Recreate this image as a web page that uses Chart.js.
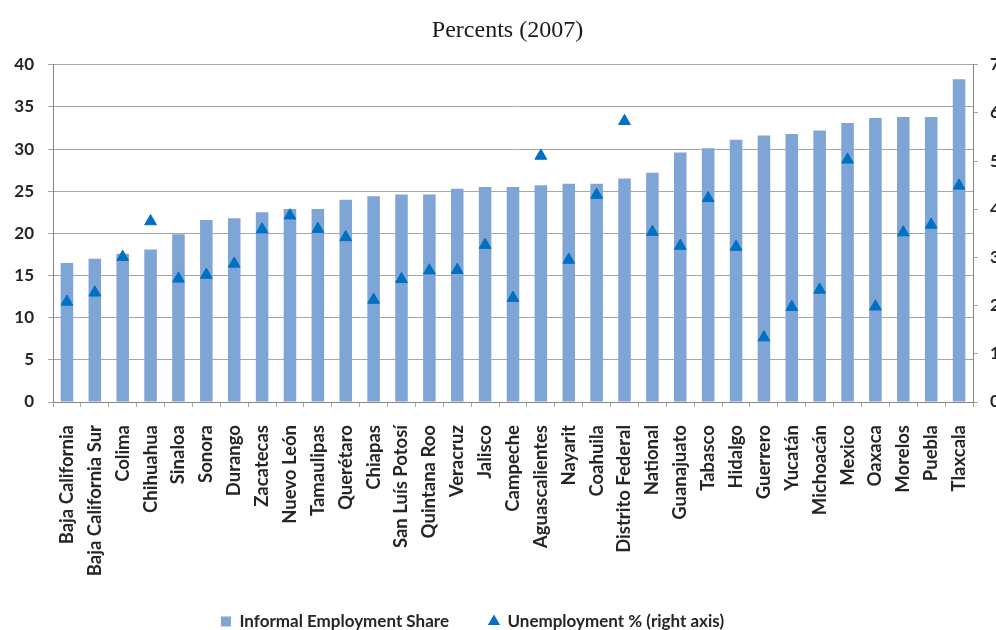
<!DOCTYPE html>
<html>
<head>
<meta charset="utf-8">
<script src="https://cdn.jsdelivr.net/npm/chart.js@4"></script>
<style>
  html, body { margin: 0; padding: 0; background: #fff; overflow: hidden; }
  /* the box is a bit wider than the window so the right-hand tick labels run off the edge */
  #wrap { position: relative; width: 1010px; height: 630px; }
</style>
</head>
<body>
<div id="wrap"><canvas id="chart"></canvas></div>
<script>
// states ordered by informal employment share
const states = [
  'Baja California', 'Baja California Sur', 'Colima', 'Chihuahua', 'Sinaloa', 'Sonora',
  'Durango', 'Zacatecas', 'Nuevo León', 'Tamaulipas', 'Querétaro', 'Chiapas',
  'San Luís Potosí', 'Quintana Roo', 'Veracruz', 'Jalisco', 'Campeche', 'Aguascalientes',
  'Nayarit', 'Coahuila', 'Distrito Federal', 'National', 'Guanajuato', 'Tabasco',
  'Hidalgo', 'Guerrero', 'Yucatán', 'Michoacán', 'Mexico', 'Oaxaca', 'Morelos',
  'Puebla', 'Tlaxcala'
];

// informal employment share, left axis
const informalShare = [
  16.5, 17.0, 17.6, 18.1, 19.9, 21.6, 21.8, 22.5, 22.9, 22.9, 24.0, 24.4,
  24.6, 24.6, 25.3, 25.5, 25.5, 25.7, 25.9, 25.9, 26.5, 27.2, 29.6, 30.1,
  31.1, 31.6, 31.8, 32.2, 33.1, 33.7, 33.8, 33.8, 38.3
];

// unemployment rate, right axis
const unemployment = [
  2.08, 2.27, 3.01, 3.75, 2.56, 2.64, 2.87, 3.58, 3.87, 3.59, 3.42, 2.12,
  2.55, 2.73, 2.74, 3.26, 2.16, 5.11, 2.95, 4.30, 5.83, 3.53, 3.24, 4.23,
  3.22, 1.34, 1.97, 2.33, 5.03, 1.98, 3.52, 3.68, 4.49
];

const leftTicks = { min: 0, max: 40, step: 5 };
const rightTicks = { min: 0, max: 7, step: 1 };

const BAR_BLUE = '#7fa5d6';
const MARK_BLUE = '#0070c0';
const GRID = '#a6a6a6';
const AXIS = '#868686';
const TEXT = '#262626';
const SANS = 'Lato, "Open Sans", sans-serif';

// fine placement of title and legend: the legend row moves up and left,
// tucked under the long state names, the title a touch to the right
const boxOffsets = {
  id: 'boxOffsets',
  afterLayout(chart) {
    const lg = chart.legend;
    if (lg) {
      lg.left -= 29;
      lg.right -= 29;
      lg.top -= 9;   // bottom edge stays put so the text is not clipped
    }
    const tt = chart.titleBlock;
    if (tt) {
      tt.left += 6;
      tt.right += 6;
    }
  }
};

new Chart(document.getElementById('chart'), {
  data: {
    labels: states,
    datasets: [
      {
        type: 'bar',
        label: 'Informal Employment Share',
        data: informalShare,
        yAxisID: 'y',
        backgroundColor: BAR_BLUE,
        borderWidth: 0,
        barPercentage: 0.45,
        categoryPercentage: 1,
        order: 1
      },
      {
        type: 'line',
        label: 'Unemployment % (right axis)',
        data: unemployment,
        yAxisID: 'y2',
        showLine: false,
        pointStyle: 'triangle',
        pointRadius: 6.8,
        pointBackgroundColor: MARK_BLUE,
        pointBorderColor: MARK_BLUE,
        pointBorderWidth: 1,
        backgroundColor: MARK_BLUE,
        borderColor: MARK_BLUE,
        borderWidth: 1,
        order: 0
      }
    ]
  },
  options: {
    responsive: true,
    maintainAspectRatio: false,
    animation: false,
    events: [],
    layout: { padding: { top: 0, left: 0, right: 7, bottom: 0 } },
    plugins: {
      title: {
        display: true,
        text: 'Percents (2007)',
        color: '#1a1a1a',
        font: { family: '"Liberation Serif", "Times New Roman", serif', size: 24, weight: 'normal' },
        padding: { top: 16, bottom: 20 }
      },
      legend: {
        position: 'bottom',
        maxHeight: 48,
        labels: {
          usePointStyle: true,
          boxHeight: 10,
          boxWidth: 10,
          padding: 40,
          color: TEXT,
          font: { family: SANS, size: 17, weight: 'bold' },
          sort: (a, b) => a.datasetIndex - b.datasetIndex,
          generateLabels(chart) {
            const items = Chart.defaults.plugins.legend.labels.generateLabels(chart);
            items.forEach(it => {
              it.pointStyle = it.datasetIndex === 0 ? 'rect' : 'triangle';
              it.lineWidth = 0;
            });
            return items;
          }
        }
      },
      tooltip: { enabled: false }
    },
    scales: {
      x: {
        grid: {
          offset: true,
          drawOnChartArea: false,
          drawTicks: true,
          tickLength: 5,
          color: GRID
        },
        border: { display: true, color: AXIS, width: 1 },
        ticks: {
          autoSkip: false,
          maxRotation: 90,
          minRotation: 90,
          padding: 18,
          color: TEXT,
          font: { family: SANS, size: 18.5, weight: 'bold' }
        },
        afterFit(scale) { scale.height = 180; }
      },
      y: {
        position: 'left',
        min: leftTicks.min,
        max: leftTicks.max,
        grid: { color: GRID, lineWidth: 1, tickLength: 5 },
        border: { display: true, color: AXIS, width: 1 },
        ticks: {
          stepSize: leftTicks.step,
          padding: 14,
          color: TEXT,
          font: { family: SANS, size: 17, weight: 'bold' }
        },
        afterFit(scale) { scale.width = 53; }
      },
      y2: {
        position: 'right',
        min: rightTicks.min,
        max: rightTicks.max,
        grid: { drawOnChartArea: false, color: GRID, tickLength: 5 },
        border: { display: true, color: AXIS, width: 1 },
        ticks: {
          stepSize: rightTicks.step,
          padding: 12,
          color: TEXT,
          font: { family: SANS, size: 17, weight: 'bold' }
        },
        afterFit(scale) { scale.width = 30; }
      }
    }
  },
  plugins: [boxOffsets]
});
</script>
</body>
</html>
